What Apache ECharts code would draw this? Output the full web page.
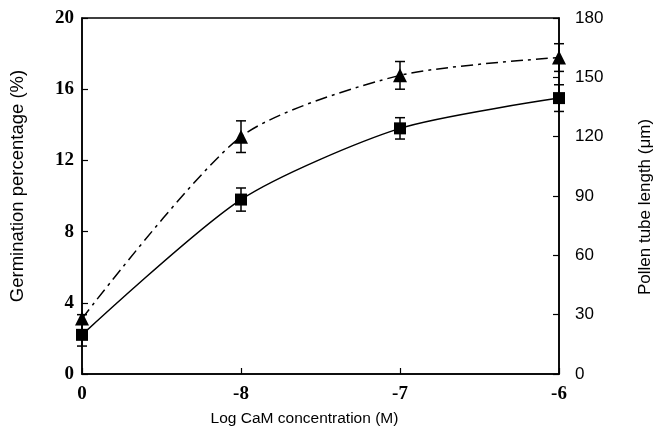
<!DOCTYPE html>
<html>
<head>
<meta charset="utf-8">
<script src="https://cdn.jsdelivr.net/npm/echarts@6/dist/echarts.min.js"></script>
<style>html,body{margin:0;padding:0;background:#fff}#c{width:662px;height:432px}</style>
</head>
<body>
<div id="c"></div>
<script>
var categories = ['0', '-8', '-7', '-6'];
var germination = [2.2, 9.8, 13.8, 15.5];
var germinationErr = [0.63, 0.65, 0.6, 0.75];
var tubeLength = [28, 120, 151, 160];
var tubeLengthErr = [2, 8, 7, 7];
var leftTicks = [0, 4, 8, 12, 16, 20];
var rightTicks = [0, 30, 60, 90, 120, 150, 180];

function errData(vals, errs) {
  return vals.map(function (v, i) { return [i, v - errs[i], v + errs[i]]; });
}
function renderErr(params, api) {
  var x = api.value(0);
  var lo = api.coord([x, api.value(1)]);
  var hi = api.coord([x, api.value(2)]);
  var w = 5;
  var st = { stroke: '#000', lineWidth: 1.5 };
  return {
    type: 'group',
    children: [
      { type: 'line', shape: { x1: lo[0], y1: lo[1], x2: hi[0], y2: hi[1] }, style: st },
      { type: 'line', shape: { x1: lo[0] - w, y1: lo[1], x2: lo[0] + w, y2: lo[1] }, style: st },
      { type: 'line', shape: { x1: hi[0] - w, y1: hi[1], x2: hi[0] + w, y2: hi[1] }, style: st }
    ]
  };
}

var chart = echarts.init(document.getElementById('c'));
var serifBold = { fontFamily: 'Liberation Serif', fontWeight: 'bold', fontSize: 19, color: '#000' };
chart.setOption({
  animation: false,
  backgroundColor: '#fff',
  grid: { left: 80, right: 103, top: 18, bottom: 58, show: true, borderColor: '#000', borderWidth: 1.5 },
  xAxis: {
    type: 'category', data: categories, boundaryGap: false,
    name: 'Log CaM concentration (M)', nameLocation: 'middle', nameGap: 37,
    nameTextStyle: { fontFamily: 'Liberation Sans', fontSize: 15.5, color: '#000', padding: [0, 32, 0, 0] },
    axisLine: { lineStyle: { color: '#000', width: 1.5 } },
    axisTick: { inside: true, length: 6, lineStyle: { color: '#000', width: 1.2 } },
    axisLabel: Object.assign({ margin: 11 }, serifBold),
    splitLine: { show: false }
  },
  yAxis: [{
    type: 'value', min: 0, max: 20, interval: 4,
    name: 'Germination percentage (%)', nameLocation: 'middle', nameGap: 55,
    nameTextStyle: { fontFamily: 'Liberation Sans', fontSize: 18.5, color: '#000', padding: [0, 0, 0, 20] },
    axisLine: { show: true, lineStyle: { color: '#000', width: 1.5 } },
    axisTick: { show: true, inside: true, length: 6, lineStyle: { color: '#000', width: 1.2 } },
    axisLabel: Object.assign({ margin: 8 }, serifBold),
    splitLine: { show: false }
  }, {
    type: 'value', min: 0, max: 180, interval: 30, position: 'right',
    name: 'Pollen tube length (\u03bcm)', nameLocation: 'middle', nameGap: 78, nameRotate: 90,
    nameTextStyle: { fontFamily: 'Liberation Sans', fontSize: 17, color: '#000', padding: [0, 22, 0, 0] },
    axisLine: { show: true, lineStyle: { color: '#000', width: 1.5 } },
    axisTick: { show: true, inside: true, length: 6, lineStyle: { color: '#000', width: 1.2 } },
    axisLabel: { margin: 16, fontFamily: 'Liberation Sans', fontSize: 17, color: '#000' },
    splitLine: { show: false }
  }],
  series: [{
    type: 'custom', yAxisIndex: 0, renderItem: renderErr, data: errData(germination, germinationErr), z: 1
  }, {
    type: 'custom', yAxisIndex: 1, renderItem: renderErr, data: errData(tubeLength, tubeLengthErr), z: 1
  }, {
    name: 'Germination', type: 'line', yAxisIndex: 0, data: germination, smooth: 0.25,
    symbol: 'rect', symbolSize: 12, itemStyle: { color: '#000' },
    lineStyle: { color: '#000', width: 1.5 }, z: 3
  }, {
    name: 'Pollen tube length', type: 'line', yAxisIndex: 1, data: tubeLength, smooth: 0.25,
    symbol: 'triangle', symbolSize: 14, itemStyle: { color: '#000' },
    lineStyle: { color: '#000', width: 1.5, type: [12, 5, 3, 5] }, z: 3
  }]
});
</script>
</body>
</html>
